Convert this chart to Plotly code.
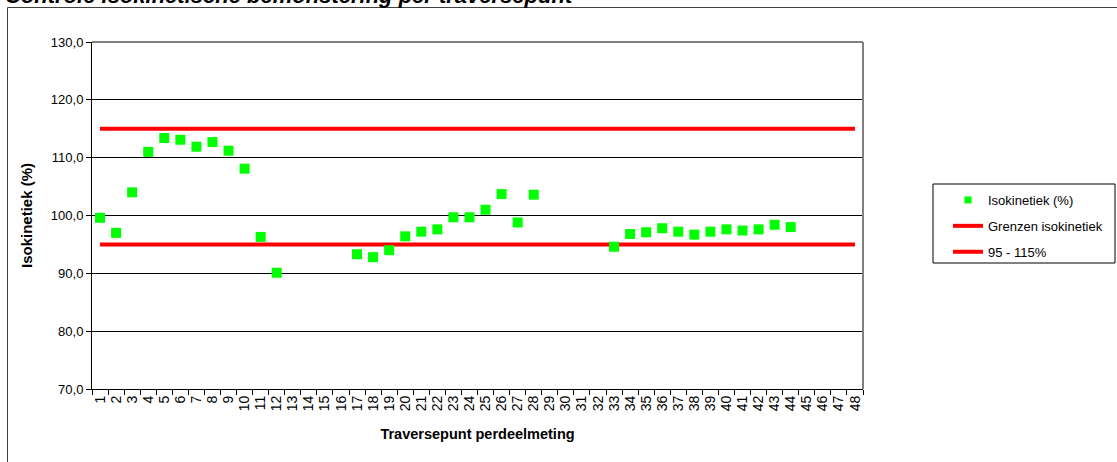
import plotly.graph_objects as go

categories = [str(i) for i in range(1, 49)]
isokinetiek = [99.6, 97.0, 104.0, 111.0, 113.4, 113.1, 111.9, 112.7, 111.2, 108.1,
               96.3, 90.1, None, None, None, None, 93.3, 92.8, 94.0, 96.4,
               97.2, 97.6, 99.7, 99.7, 101.0, 103.7, 98.8, 103.6, None, None,
               None, None, 94.6, 96.8, 97.1, 97.8, 97.2, 96.7, 97.2, 97.6,
               97.4, 97.6, 98.4, 98.0, None, None, None, None]
upper_limit = 115
lower_limit = 95
y_ticks = [70, 80, 90, 100, 110, 120, 130]

FONT = "Arial, Liberation Sans, sans-serif"
W, H = 1117, 462
L, R, T, B = 92, 254, 42, 73
pw, ph = W - L - R, H - T - B

def px2paper_x(px):
    return (px - L) / pw

def px2paper_y(py):
    return 1 - (py - T) / ph

fig = go.Figure()

fig.add_trace(go.Scatter(
    x=categories, y=[upper_limit] * len(categories), mode="lines",
    line=dict(color="#FF0000", width=4), name="Grenzen isokinetiek",
    legendrank=2, legendgroup="g2", hoverinfo="skip"))
fig.add_trace(go.Scatter(
    x=categories, y=[lower_limit] * len(categories), mode="lines",
    line=dict(color="#FF0000", width=4), name="95 - 115%",
    legendrank=3, legendgroup="g3", hoverinfo="skip"))
fig.add_trace(go.Scatter(
    x=categories, y=isokinetiek, mode="markers",
    marker=dict(symbol="square", size=10, color="#00FF00",
                line=dict(width=0)),
    name="Isokinetiek (%)", showlegend=False))
# legend-only entry with the smaller legend marker
fig.add_trace(go.Scatter(
    x=[None], y=[None], mode="markers",
    marker=dict(symbol="square", size=7, color="#00FF00"),
    name="Isokinetiek (%)", legendrank=1, legendgroup="g1"))

fig.update_layout(
    width=W, height=H,
    margin=dict(l=L, r=R, t=T, b=B, autoexpand=False),
    paper_bgcolor="white", plot_bgcolor="white",
    separators=",.",
    font=dict(family=FONT, size=13, color="black"),
    showlegend=True,
    legend=dict(x=px2paper_x(948), y=px2paper_y(185), xanchor="left", yanchor="top",
                borderwidth=0, bgcolor="rgba(0,0,0,0)",
                font=dict(family=FONT, size=13, color="black"),
                tracegroupgap=6, traceorder="grouped"),
    xaxis=dict(type="category", categoryorder="array", categoryarray=categories,
               range=[-0.5, len(categories) - 0.5],
               tickmode="array", tickvals=categories, ticktext=categories,
               showgrid=False, showline=True, linecolor="black", linewidth=1,
               ticks="outside", tickson="boundaries", ticklen=5, tickcolor="black",
               tickangle=-90, tickfont=dict(family=FONT, size=14),
               title=dict(text="<b>Traversepunt perdeelmeting</b>",
                          font=dict(family=FONT, size=14.5), standoff=18),
               zeroline=False, fixedrange=True),
    yaxis=dict(range=[70, 130], tickvals=y_ticks, tickformat=".1f",
               showgrid=True, gridcolor="black", gridwidth=1,
               showline=True, linecolor="black", linewidth=1,
               ticks="outside", ticklen=5, tickcolor="black",
               tickfont=dict(family=FONT, size=13),
               title=dict(text="<b>Isokinetiek (%)</b>",
                          font=dict(family=FONT, size=15), standoff=14),
               zeroline=False, fixedrange=True),
    shapes=[
        dict(type="rect", xref="paper", yref="paper",
             x0=px2paper_x(7.5), x1=px2paper_x(1200), y0=px2paper_y(7.5), y1=px2paper_y(520),
             line=dict(color="#404040", width=1), layer="below"),
        dict(type="rect", xref="paper", yref="paper",
             x0=px2paper_x(933), x1=px2paper_x(1115), y0=px2paper_y(184), y1=px2paper_y(263),
             line=dict(color="black", width=1), layer="below"),
        dict(type="line", xref="paper", yref="paper", x0=0, x1=1, y0=1, y1=1,
             line=dict(color="#808080", width=2), layer="above"),
        dict(type="line", xref="paper", yref="paper", x0=1, x1=1, y0=0, y1=1,
             line=dict(color="#808080", width=2), layer="above"),
    ],
    annotations=[
        dict(text="<b><i>Controle isokinetische bemonstering per traversepunt</i></b>",
             xref="paper", yref="paper", x=px2paper_x(3), y=px2paper_y(10),
             xanchor="left", yanchor="bottom", showarrow=False,
             font=dict(family=FONT, size=22, color="black")),
    ],
)

fig.write_html("out.html", config={"displayModeBar": False},
               post_script="document.body.style.margin='0';")
